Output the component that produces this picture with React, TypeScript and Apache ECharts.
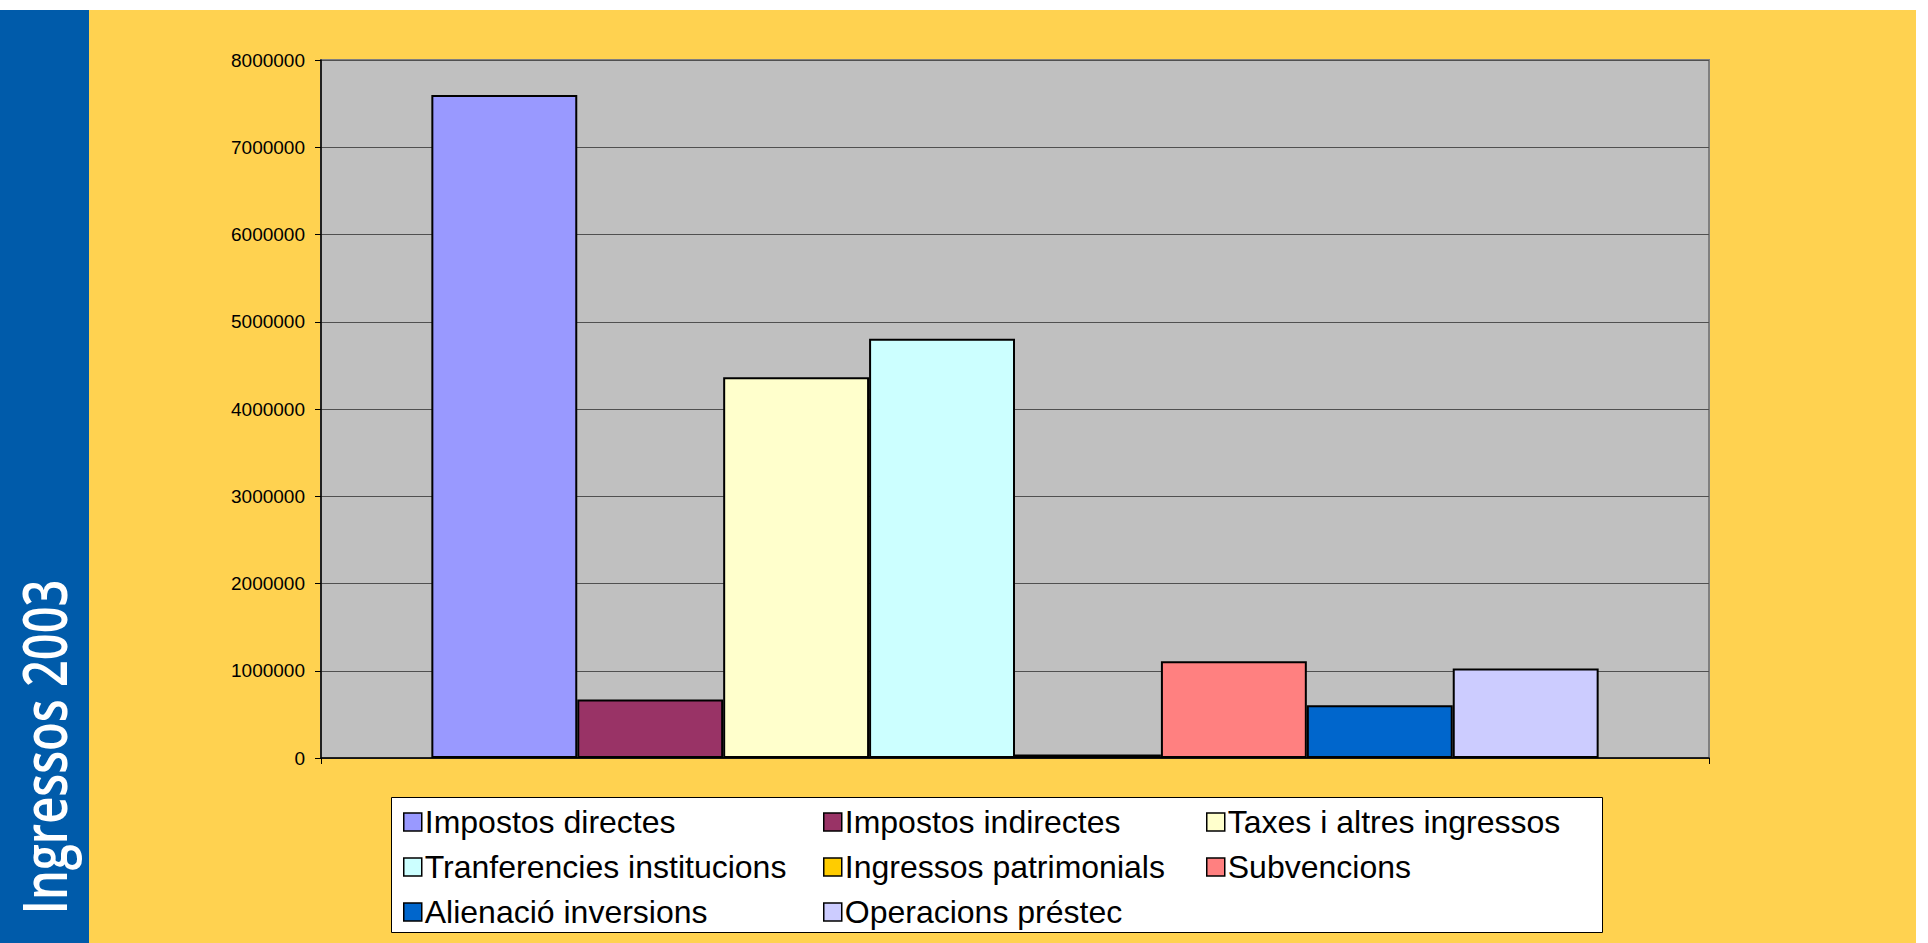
import React, { useEffect, useRef } from "react";
import * as echarts from "echarts";

const seriesNames = [
  "Impostos directes",
  "Impostos indirectes",
  "Taxes i altres ingressos",
  "Tranferencies institucions",
  "Ingressos patrimonials",
  "Subvencions",
  "Alienació inversions",
  "Operacions préstec",
];
const seriesValues = [7600000, 670000, 4363000, 4806000, 40000, 1110000, 606000, 1025000];
const seriesColors = ["#9999FF", "#993366", "#FFFFCC", "#CCFFFF", "#FFCC00", "#FF8080", "#0066CC", "#CCCCFF"];
const categories = [""];
const legendColumns = [
  ["Impostos directes", "Tranferencies institucions", "Alienació inversions"],
  ["Impostos indirectes", "Ingressos patrimonials", "Operacions préstec"],
  ["Taxes i altres ingressos", "Subvencions"],
];
const titleText = "Ingressos 2003";

const TITLE_FONT = '"Open Sans", "Noto Sans", sans-serif';
const TITLE_SIZE = 62;
const TITLE_WEIGHT = "600";

function measure(text: string, font: string): number {
  const c = document.createElement("canvas");
  const ctx = c.getContext("2d");
  if (!ctx) return text.length * 0.55 * TITLE_SIZE;
  ctx.font = font;
  return ctx.measureText(text).width;
}

export default function App() {
  const ref = useRef<HTMLDivElement>(null);
  useEffect(() => {
    if (!ref.current) return;
    const chart = echarts.init(ref.current, null, { renderer: "svg" });
    const legendX = [403, 823, 1206];
    const titleWidth = measure(titleText, `${TITLE_WEIGHT} ${TITLE_SIZE}px ${TITLE_FONT}`);
    const titleScale = 335 / titleWidth;
    chart.setOption({
      animation: false,
      graphic: [
        { type: "rect", z: -10, shape: { x: 0, y: 10, width: 89, height: 933 }, style: { fill: "#005BAA" } },
        { type: "rect", z: -10, shape: { x: 89, y: 10, width: 1827, height: 933 }, style: { fill: "#FFD250" } },
        {
          type: "text",
          x: 43,
          y: 747,
          rotation: Math.PI / 2,
          scaleX: titleScale,
          scaleY: 1,
          style: {
            text: titleText,
            fill: "#FFFFFF",
            fontSize: TITLE_SIZE,
            fontWeight: TITLE_WEIGHT,
            fontFamily: TITLE_FONT,
            textAlign: "center",
            textVerticalAlign: "middle",
          },
        },
        {
          type: "rect",
          z: -5,
          shape: { x: 391.5, y: 797.5, width: 1211, height: 135 },
          style: { fill: "#FFFFFF", stroke: "#000000", lineWidth: 1 },
        },
      ],
      legend: legendColumns.map((col, i) => ({
        data: col,
        orient: "vertical",
        left: legendX[i],
        top: 806,
        itemWidth: 18,
        itemHeight: 18,
        itemGap: 13,
        icon: "rect",
        padding: 0,
        selectedMode: false,
        itemStyle: { borderColor: "#000", borderWidth: 1.5 },
        textStyle: { fontSize: 32, color: "#000", fontFamily: '"Liberation Sans", Arial, sans-serif', padding: [0, 0, 0, -2] },
      })),
      grid: {
        left: 321,
        top: 60,
        width: 1388,
        height: 698,
        show: true,
        backgroundColor: "#C0C0C0",
        borderColor: "#808080",
        borderWidth: 2,
      },
      xAxis: {
        type: "category",
        data: categories,
        axisLine: { show: true, lineStyle: { color: "#000", width: 1.5 } },
        axisTick: { show: true, length: 6, lineStyle: { color: "#000" } },
        axisLabel: { show: false },
      },
      yAxis: {
        type: "value",
        min: 0,
        max: 8000000,
        interval: 1000000,
        axisLine: { show: true, lineStyle: { color: "#000", width: 1.5 } },
        axisTick: { show: true, length: 6, lineStyle: { color: "#000" } },
        axisLabel: {
          fontSize: 19,
          color: "#000",
          margin: 16,
          fontFamily: '"Liberation Sans", Arial, sans-serif',
          formatter: (v: number) => String(v),
        },
        splitLine: { show: true, lineStyle: { color: "#505050", width: 1 } },
      },
      series: seriesNames.map((name, i) => ({
        type: "bar",
        name,
        data: [seriesValues[i]],
        barGap: "0%",
        barCategoryGap: "15.9%",
        itemStyle: { color: seriesColors[i], borderColor: "#000", borderWidth: 2 },
      })),
    });
    return () => chart.dispose();
  }, []);
  return (
    <div
      ref={ref}
      style={{ position: "absolute", left: 0, top: 0, width: 1928, height: 943, background: "#FFFFFF" }}
    />
  );
}
